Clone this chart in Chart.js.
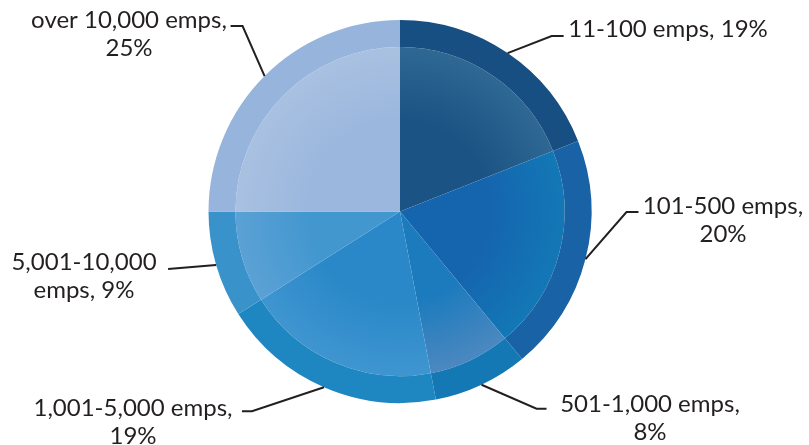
<!DOCTYPE html>
<html>
<head>
<meta charset="utf-8">
<title>Company size</title>
<script src="https://cdn.jsdelivr.net/npm/chart.js@4"></script>
<style>
  html, body { margin: 0; padding: 0; background: #fff; }
  #wrap { width: 809px; height: 445px; position: relative; }
</style>
</head>
<body>
<div id="wrap"><canvas id="myChart"></canvas></div>
<script>
// chart data
const categories = ['11-100 emps', '101-500 emps', '501-1,000 emps', '1,001-5,000 emps', '5,001-10,000 emps', 'over 10,000 emps'];
const shares = [19, 20, 8, 19, 9, 25];

// colours: outer rim, inner disc centre, inner disc edge
const rimColors = ['#174f82', '#1a62a6', '#1478b5', '#1e86c1', '#3a92ca', '#97b4dc'];
const coreColors = ['#1b5384', '#1565ae', '#1c7bbd', '#2a88c8', '#4297cf', '#9bb7de'];
const edgeColors = ['#2e6893', '#1378b6', '#4c88c0', '#3f95d0', '#5ba1d5', '#a9c1e1'];

// label layout: words before line break, elbow offset from slice edge, tail, text centre
const labelLayout = [
  { brk: 0, elbow: [44, -17], tail: 12, text: [668, 29] },
  { brk: 2, elbow: [41, -47], tail: 12, text: [723, 206] },
  { brk: 2, elbow: [55, 24], tail: 10, text: [650, 404] },
  { brk: 2, elbow: [-72, 24], tail: -10, text: [133, 408] },
  { brk: 1, elbow: [-48, 4], tail: 0, text: [84, 262] },
  { brk: 3, elbow: [-22, -50], tail: -12, text: [129, 20] }
];

const RIM = 27, CORE = 165;

function innerFill(context) {
  const chart = context.chart;
  const area = chart.chartArea;
  const i = context.dataIndex;
  if (!area) return coreColors[i];
  const cx = (area.left + area.right) / 2;
  const cy = (area.top + area.bottom) / 2;
  const r = Math.min(area.right - area.left, area.bottom - area.top) / 2 * CORE / (CORE + RIM);
  const g = chart.ctx.createRadialGradient(cx, cy, 0, cx, cy, r);
  g.addColorStop(0, coreColors[i]);
  g.addColorStop(0.55, coreColors[i]);
  g.addColorStop(1, edgeColors[i]);
  return g;
}

const leaderLabels = {
  id: 'leaderLabels',
  afterDraw(chart) {
    const ctx = chart.ctx;
    const meta = chart.getDatasetMeta(0);
    ctx.save();
    ctx.strokeStyle = '#231f20';
    ctx.fillStyle = '#231f20';
    ctx.lineWidth = 2;
    ctx.font = '24px Lato';
    ctx.textAlign = 'center';
    ctx.textBaseline = 'middle';
    meta.data.forEach(function(arc, i) {
      const p = arc.getProps(['x', 'y', 'startAngle', 'endAngle', 'outerRadius'], true);
      const mid = (p.startAngle + p.endAngle) / 2;
      const ax = p.x + Math.cos(mid) * p.outerRadius;
      const ay = p.y + Math.sin(mid) * p.outerRadius;
      const lay = labelLayout[i];
      const ex = ax + lay.elbow[0];
      const ey = ay + lay.elbow[1];
      ctx.beginPath();
      ctx.moveTo(ax, ay);
      ctx.lineTo(ex, ey);
      ctx.lineTo(ex + lay.tail, ey);
      ctx.stroke();

      const words = (categories[i] + ', ' + shares[i] + '%').split(' ');
      const lines = lay.brk ? [words.slice(0, lay.brk).join(' '), words.slice(lay.brk).join(' ')] : [words.join(' ')];
      lines.forEach(function(line, k) {
        ctx.fillText(line, lay.text[0], lay.text[1] + k * 28);
      });
    });
    ctx.restore();
  }
};

const canvas = document.getElementById('myChart');

new Chart(canvas, {
  type: 'pie',
  data: {
    labels: categories,
    datasets: [
      {
        data: shares,
        backgroundColor: rimColors,
        borderWidth: 0,
        weight: RIM
      },
      {
        data: shares,
        backgroundColor: innerFill,
        borderWidth: 0,
        weight: CORE
      }
    ]
  },
  options: {
    responsive: true,
    maintainAspectRatio: false,
    animation: false,
    layout: {
      padding: { top: 20, bottom: 42, left: 0, right: 9 }
    },
    plugins: {
      legend: { display: false },
      tooltip: { enabled: false }
    }
  },
  plugins: [leaderLabels]
});
</script>
</body>
</html>
